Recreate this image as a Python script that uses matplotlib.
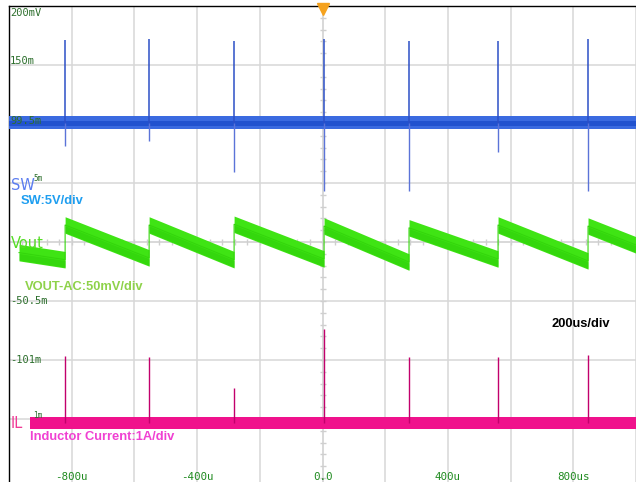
import numpy as np
import matplotlib
matplotlib.use("Agg")
import matplotlib.pyplot as plt

# ---------------- data ----------------
W, H = 636, 482
PX_PER_DIV = 59.0

x_ticks_us = [-800, -400, 0, 400, 800]
x_tick_labels = ['-800u', '-400u', '0.0', '400u', '800us']

# switching events (us)
sw_times_us = [-821, -553, -282, 5, 276, 560, 847]
sw_spike_up_V = [7.0, 7.1, 6.9, 7.1, 6.9, 6.9, 7.1]
sw_spike_down_V = [-2.0, -1.5, -4.2, -5.8, -5.8, -2.5, -5.8]
sw_band_V = 0.55
SW_V_PER_DIV = 5.0
SW_OFFSET_DIV = 2.02

vout_t_us = [-968, -821, -821, -553, -553, -282, -282, 5, 5, 276, 276,
             560, 560, 847, 847, 1000]
vout_mV = [-9, -15, 14.4, -13.5, 14.4, -15, 15, -14.4, 13.5, -17, 12,
           -14.4, 14.4, -16, 13.5, -2.5]
vout_band_mV = 7.0
VOUT_MV_PER_DIV = 50.0
VOUT_OFFSET_DIV = 0.0

il_start_us = -933
il_spike_A = [1.14, 1.12, 0.59, 1.59, 1.12, 1.12, 1.15]
il_band_A = 0.1
IL_A_PER_DIV = 1.0
IL_OFFSET_DIV = -3.07

ruler_labels = ['200mV', '150m', '99.5m', '5m', '-50.5m', '-101m', '1m']
ruler_div = [3.88, 3.07, 2.05, 1.03, -1.0, -2.0, -3.0]

# ---------------- figure ----------------
fig = plt.figure(figsize=(W / 100, H / 100), dpi=100)
ax_left, ax_top = 9, 6
ax = fig.add_axes([ax_left / W, 0, (W - ax_left) / W, (H - ax_top) / H])
ybot = 4 - (H - ax_top) / PX_PER_DIV
ax.set_xlim(-1000, 1000)
ax.set_ylim(ybot, 4)

grid_c = '#d7d7d7'
ax.set_xticks(np.arange(-800, 1001, 200))
ax.set_yticks(np.arange(-3, 4, 1))
ax.tick_params(length=0, labelbottom=False, labelleft=False)
ax.grid(True, color=grid_c, lw=1.1)
ax.set_axisbelow(True)
for s in ['right', 'bottom']:
    ax.spines[s].set_visible(False)
for s in ['top', 'left']:
    ax.spines[s].set_color('black')
    ax.spines[s].set_linewidth(1.0)

# center lines with minor ticks
ax.axvline(0, color=grid_c, lw=1.1, zorder=0.5)
ax.axhline(0, color=grid_c, lw=1.1, zorder=0.5)
ax.plot(np.arange(-1000, 1001, 40), np.zeros(51), ls='none', marker='|',
        ms=4, mew=1.0, color='#cfcfcf', zorder=0.6)
ax.plot(np.zeros(41), np.arange(-4, 4.01, 0.2), ls='none', marker='_',
        ms=5, mew=1.0, color='#cfcfcf', zorder=0.6)

# ---- SW channel ----
sw_base = SW_OFFSET_DIV
t_full = np.array([-1000, 1000])
ax.fill_between(t_full, sw_base - sw_band_V / SW_V_PER_DIV,
                sw_base + sw_band_V / SW_V_PER_DIV, color='#3a6ae0', lw=0, zorder=3)
ax.fill_between(t_full, sw_base - 0.55 * sw_band_V / SW_V_PER_DIV,
                sw_base + 0.35 * sw_band_V / SW_V_PER_DIV, color='#2152cf', lw=0, zorder=3.1)
ax.vlines(sw_times_us, sw_base, sw_base + np.array(sw_spike_up_V) / SW_V_PER_DIV,
          color='#2c4fc6', lw=1.1, zorder=3.2)
ax.vlines(sw_times_us, sw_base + np.array(sw_spike_down_V) / SW_V_PER_DIV, sw_base,
          color='#5b73d8', lw=1.0, zorder=3.2)

# ---- Vout channel ----
vt = np.array(vout_t_us, dtype=float)
vy = np.array(vout_mV) / VOUT_MV_PER_DIV + VOUT_OFFSET_DIV
bw = vout_band_mV / VOUT_MV_PER_DIV
ax.fill_between(vt, vy - bw, vy + bw, color='#3fe414', lw=0, zorder=3)
ax.fill_between(vt, vy - 0.9 * bw, vy - 0.1 * bw, color='#27c905', lw=0, alpha=0.45, zorder=3.1)
ax.plot(vt, vy, color='#34d60c', lw=0.8, zorder=3.05)

# ---- IL channel ----
il_base = IL_OFFSET_DIV
ax.fill_between([il_start_us, 1000], il_base - il_band_A / IL_A_PER_DIV,
                il_base + il_band_A / IL_A_PER_DIV, color='#f0128c', lw=0, zorder=3)
ax.vlines(sw_times_us, il_base, il_base + np.array(il_spike_A) / IL_A_PER_DIV,
          color='#c2006c', lw=1.0, zorder=3.2)

# orange trigger marker
ax.plot([0], [4 - 3 / PX_PER_DIV], marker='v', ms=8, color='#f5a21e',
        mec='#f5a21e', clip_on=False, zorder=6)

# ---------------- text ----------------
def px(x, y):
    return x / W, 1 - y / H

mono = 'DejaVu Sans Mono'
for lab, d in zip(ruler_labels, ruler_div):
    ypx = 242 - d * PX_PER_DIV
    small = lab in ('5m', '1m')
    fig.text(*px(33 if small else 10, ypx - (3 if small else 0)), lab, family=mono,
             fontsize=5.5 if small else 7.5, color='#2c6e2c', ha='left', va='center', zorder=7)

for v, lab in zip(x_ticks_us, x_tick_labels):
    ax.text(v, 4 - (477 - ax_top) / PX_PER_DIV, lab, family=mono, fontsize=7.8,
            color='#1f8a1f', ha='center', va='center', zorder=7)

lab_kw = dict(family='DejaVu Sans', fontsize=10.5, va='center', ha='left', zorder=7)
fig.text(*px(11, 186), 'SW', color='#5a7cf0', **lab_kw)
fig.text(*px(11, 244), 'Vout', color='#55dd25', **lab_kw)
fig.text(*px(11, 424), 'IL', color='#f03a96', **lab_kw)

bold = dict(family='Liberation Sans', fontweight='bold', fontsize=9.3,
            va='center', ha='left', zorder=7)
fig.text(*px(21, 201), 'SW:5V/div', color='#1e9ef0', **bold)
fig.text(*px(25, 287), 'VOUT-AC:50mV/div', color='#8ed24a', **bold)
fig.text(*px(551, 324), '200us/div', color='black', **bold)
fig.text(*px(30, 437), 'Inductor Current:1A/div', color='#f040d2', **bold)

fig.savefig('out.png', dpi=100)
